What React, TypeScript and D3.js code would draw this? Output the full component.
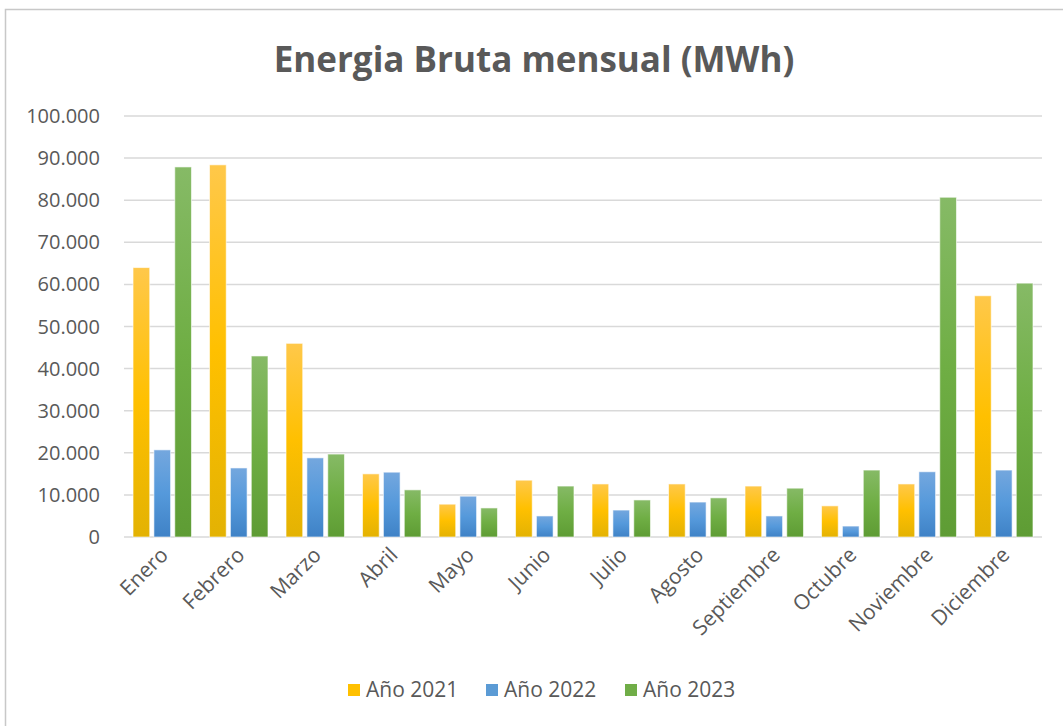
import React, { useEffect, useRef } from "react";
import * as d3 from "d3";

const months = [
  "Enero", "Febrero", "Marzo", "Abril", "Mayo", "Junio",
  "Julio", "Agosto", "Septiembre", "Octubre", "Noviembre", "Diciembre",
];
const series = ["Año 2021", "Año 2022", "Año 2023"];
const y2021 = [64000, 88400, 46000, 15000, 7800, 13500, 12600, 12600, 12100, 7400, 12600, 57300];
const y2022 = [20700, 16400, 18800, 15400, 9700, 5000, 6400, 8300, 5000, 2600, 15500, 15900];
const y2023 = [87900, 43000, 19700, 11200, 6900, 12100, 8800, 9300, 11600, 15900, 80700, 60300];
const yTicks = [0, 10000, 20000, 30000, 40000, 50000, 60000, 70000, 80000, 90000, 100000];

const colors = ["#ffc000", "#5b9bd5", "#70ad47"];
// top / middle / bottom of the excel-like gradient
const gradStops = [
  ["#ffc84a", "#ffc000", "#e3b203"],
  ["#74a7de", "#5599db", "#3f82c6"],
  ["#86ba66", "#6fae44", "#5e9c34"],
];

const W = 1063;
const H = 726;
const FONT = "'Open Sans', sans-serif";

export default function App() {
  const svgRef = useRef<SVGSVGElement>(null);

  useEffect(() => {
    const svg = d3.select(svgRef.current);
    svg.selectAll("*").remove();

    const values = [y2021, y2022, y2023];
    const rows = months.map((m, i) => ({ month: m, vals: values.map((v) => v[i]) }));

    const plot = { left: 124, right: 1042, top: 116, bottom: 537 };

    const x0 = d3.scaleBand().domain(months).range([plot.left, plot.right]).padding(0);
    const bw = x0.bandwidth();
    const x1 = d3
      .scaleBand()
      .domain(series)
      .range([bw * 0.118, bw * 0.882])
      .paddingInner(0.2);
    const y = d3.scaleLinear().domain([0, 100000]).range([plot.bottom, plot.top]);

    const fmt = d3.formatLocale({
      decimal: ",",
      thousands: ".",
      grouping: [3],
      currency: ["", ""],
    }).format(",");

    // gradients
    const defs = svg.append("defs");
    series.forEach((s, i) => {
      const g = defs
        .append("linearGradient")
        .attr("id", `grad${i}`)
        .attr("x1", 0).attr("y1", 0).attr("x2", 0).attr("y2", 1);
      g.append("stop").attr("offset", "0%").attr("stop-color", gradStops[i][0]);
      g.append("stop").attr("offset", "50%").attr("stop-color", gradStops[i][1]);
      g.append("stop").attr("offset", "100%").attr("stop-color", gradStops[i][2]);
    });

    // chart border
    svg
      .append("rect")
      .attr("x", 5.5)
      .attr("y", 9.5)
      .attr("width", W + 10)
      .attr("height", H + 10)
      .attr("fill", "#fff")
      .attr("stroke", "#c8c8c8")
      .attr("stroke-width", 1.5);

    // title
    svg
      .append("text")
      .attr("x", 534)
      .attr("y", 72)
      .attr("text-anchor", "middle")
      .style("font-family", FONT)
      .style("font-size", "35px")
      .style("font-weight", "700")
      .style("fill", "#595959")
      .text("Energia Bruta mensual (MWh)");

    // grid lines
    svg
      .append("g")
      .selectAll("line")
      .data(yTicks)
      .enter()
      .append("line")
      .attr("x1", plot.left)
      .attr("x2", plot.right)
      .attr("y1", (d) => y(d))
      .attr("y2", (d) => y(d))
      .attr("stroke", "#d9d9d9")
      .attr("stroke-width", 1.5);

    // y labels
    svg
      .append("g")
      .selectAll("text")
      .data(yTicks)
      .enter()
      .append("text")
      .attr("x", 100)
      .attr("y", (d) => y(d))
      .attr("dy", "0.35em")
      .attr("text-anchor", "end")
      .style("font-family", FONT)
      .style("font-size", "20px")
      .style("fill", "#595959")
      .text((d) => fmt(d));

    // bars
    const groups = svg
      .append("g")
      .selectAll("g")
      .data(rows)
      .enter()
      .append("g")
      .attr("transform", (d) => `translate(${x0(d.month)},0)`);

    groups
      .selectAll("rect")
      .data((d) => d.vals.map((v, i) => ({ key: series[i], i, v })))
      .enter()
      .append("rect")
      .attr("x", (d) => x1(d.key)!)
      .attr("width", x1.bandwidth())
      .attr("y", (d) => y(d.v))
      .attr("height", (d) => y(0) - y(d.v))
      .attr("fill", (d) => `url(#grad${d.i})`)
      .attr("stroke", "#ffffff")
      .attr("stroke-opacity", 0.6)
      .attr("stroke-width", 1);

    // x labels
    svg
      .append("g")
      .selectAll("text")
      .data(months)
      .enter()
      .append("text")
      .attr(
        "transform",
        (d) => `translate(${x0(d)! + bw / 2 + 2},${plot.bottom + 14}) rotate(-45)`
      )
      .attr("text-anchor", "end")
      .attr("dy", "0.35em")
      .style("font-family", FONT)
      .style("font-size", "21px")
      .style("fill", "#595959")
      .text((d) => d);

    // legend
    const legendX = [348, 486, 625];
    const lg = svg
      .append("g")
      .selectAll("g")
      .data(series)
      .enter()
      .append("g")
      .attr("transform", (d, i) => `translate(${legendX[i]},690)`);
    lg.append("rect")
      .attr("x", 0)
      .attr("y", -6)
      .attr("width", 12)
      .attr("height", 12)
      .attr("fill", (d, i) => colors[i]);
    lg.append("text")
      .attr("x", 18)
      .attr("y", 0)
      .attr("dy", "0.35em")
      .style("font-family", FONT)
      .style("font-size", "21px")
      .style("fill", "#595959")
      .text((d) => d);
  }, []);

  return (
    <svg
      ref={svgRef}
      width={W}
      height={H}
      style={{ position: "absolute", left: 0, top: 0, background: "#fff" }}
    />
  );
}
